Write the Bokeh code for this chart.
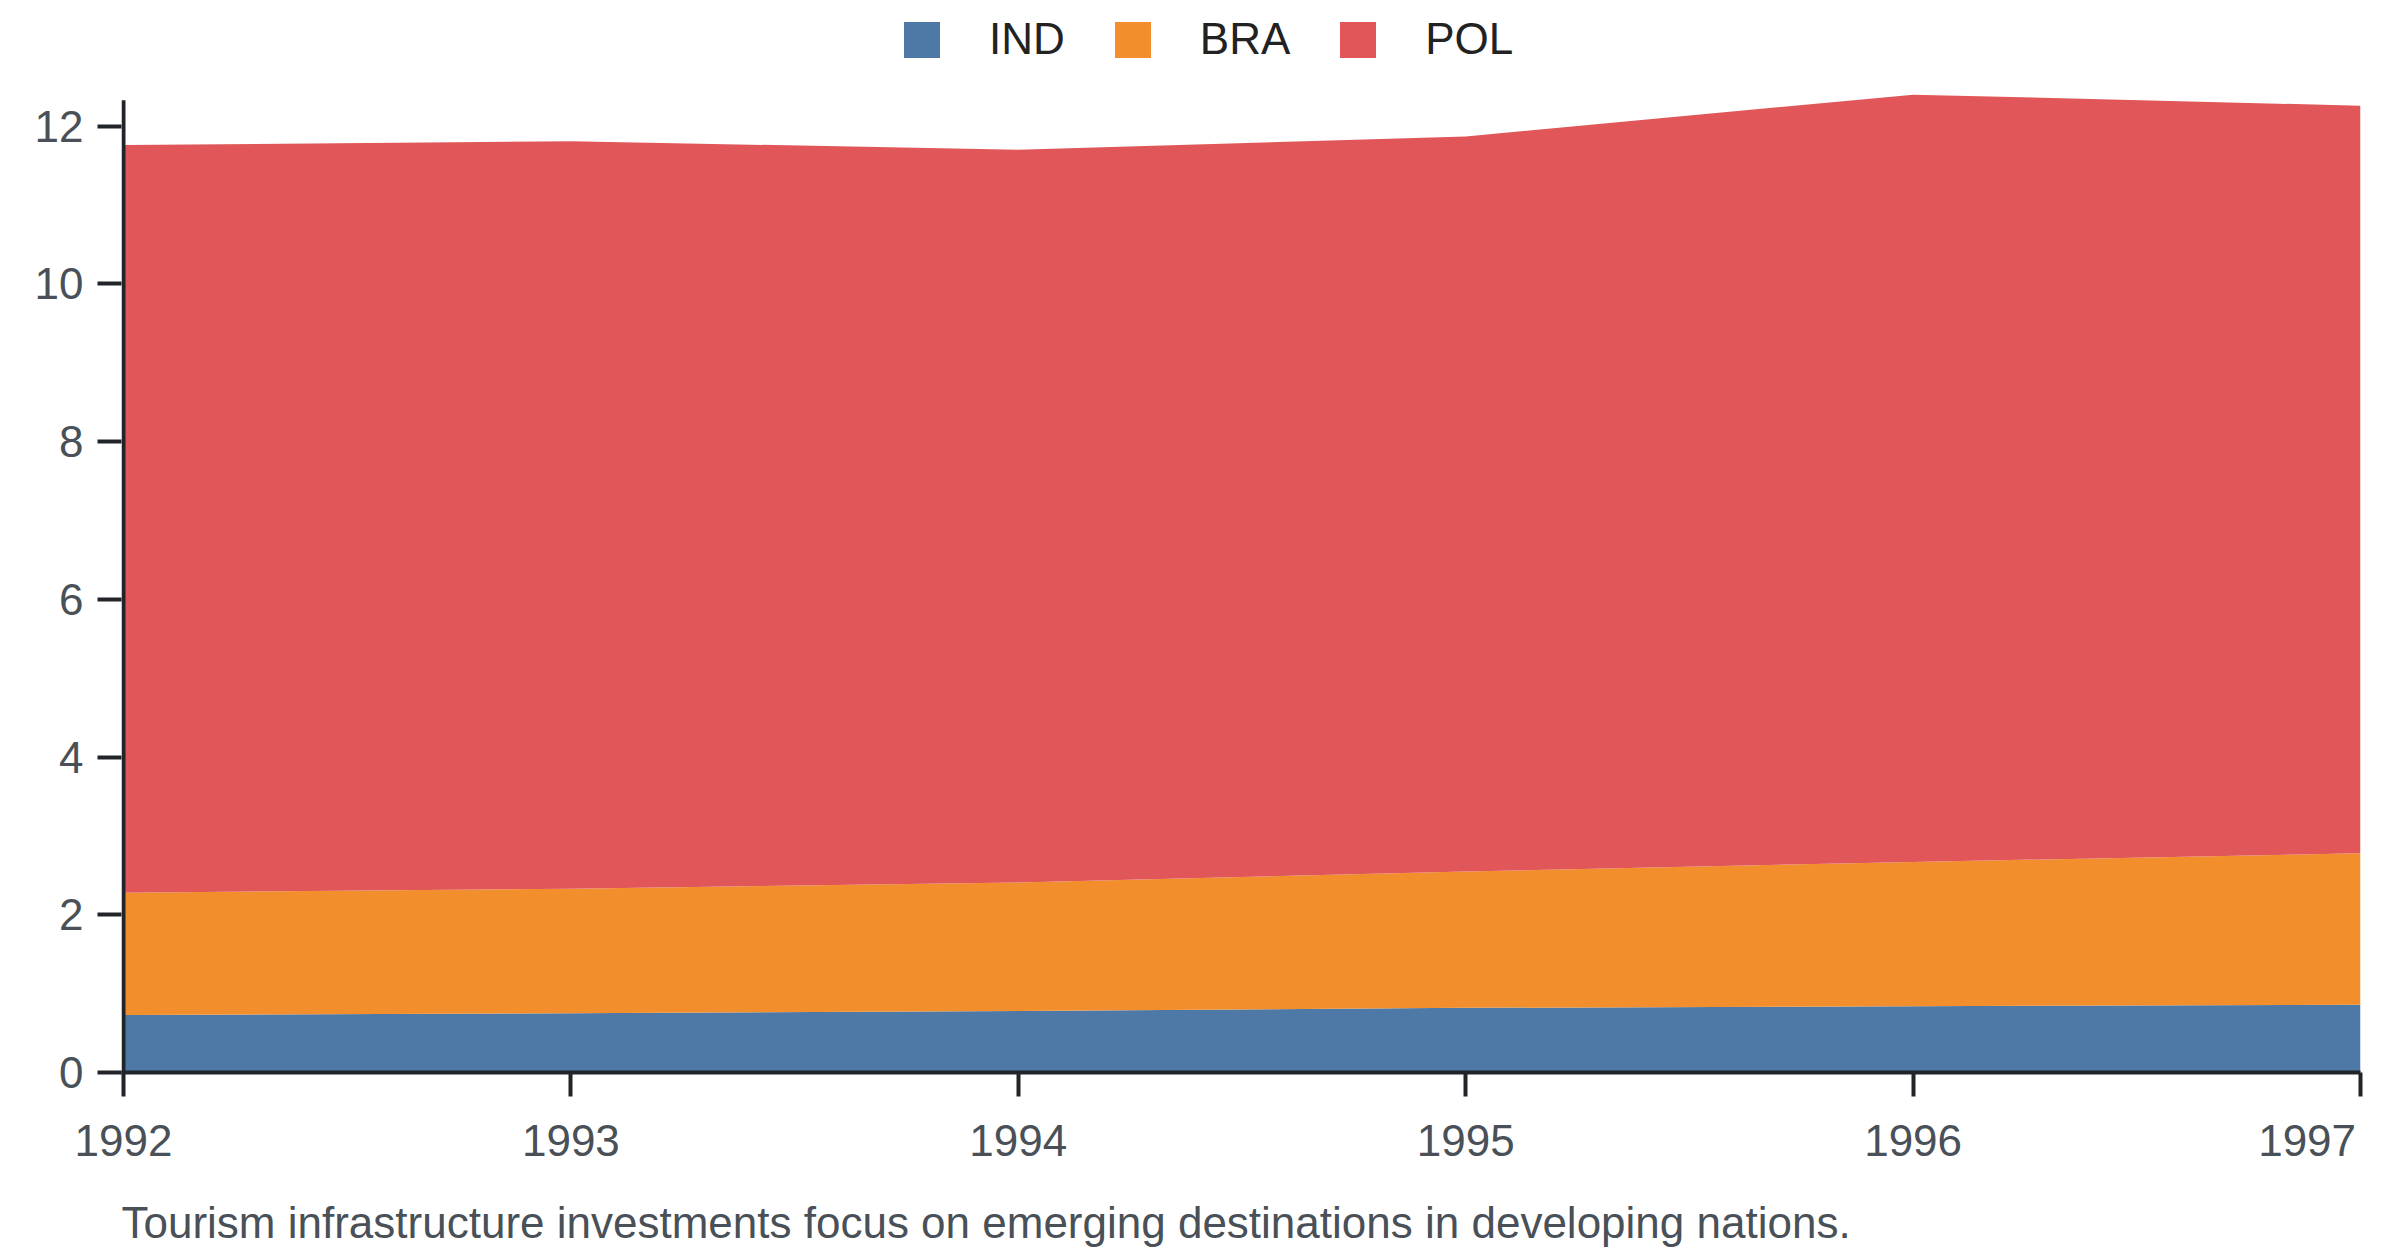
from bokeh.plotting import figure
from bokeh.models import ColumnDataSource, Legend, Title, FixedTicker
from bokeh.embed import file_html
from bokeh.resources import INLINE

years = [1992, 1993, 1994, 1995, 1996, 1997]
IND = [0.73, 0.75, 0.78, 0.82, 0.84, 0.86]
BRA = [1.55, 1.58, 1.63, 1.73, 1.83, 1.92]
POL = [9.48, 9.48, 9.29, 9.32, 9.73, 9.48]
series = ["IND", "BRA", "POL"]
colors = ["#4e79a7", "#f28e2b", "#e15759"]
y_ticks = [0, 2, 4, 6, 8, 10, 12]
y_axis_top = 12.33
caption = "Tourism infrastructure investments focus on emerging destinations in developing nations."

FONT = "Liberation Sans"
FS = "44px"
AXIS_COLOR = "#212529"
LABEL_COLOR = "#495057"

source = ColumnDataSource(dict(year=years, IND=IND, BRA=BRA, POL=POL))

W, H = 2380, 1276
FRAME_BOTTOM = 1072
PX_PER_UNIT = 78.86
PX_PER_YEAR = 447.4
x_pad = 2 / PX_PER_YEAR

p = figure(width=W, height=H, output_backend="svg", toolbar_location=None,
           x_range=(years[0] - x_pad, years[-1]),
           y_range=(0, FRAME_BOTTOM / PX_PER_UNIT),
           min_border_left=121, min_border_right=W - 2360, min_border_top=0,
           min_border_bottom=H - FRAME_BOTTOM)
p.outline_line_color = None
p.xgrid.visible = False
p.ygrid.visible = False

renderers = p.varea_stack(series, x="year", source=source, color=colors)

# y axis spine, drawn only up to where the reference's spine ends
p.segment(x0=[years[0]], y0=[0], x1=[years[0]], y1=[y_axis_top],
          line_color=AXIS_COLOR, line_width=4)

legend = Legend(items=[(s, [r]) for s, r in zip(series, renderers)],
                orientation="horizontal", location=(778, FRAME_BOTTOM - 64),
                glyph_width=45, glyph_height=45, label_standoff=45, spacing=45,
                padding=0, margin=0, border_line_color=None,
                background_fill_alpha=0,
                label_text_font=FONT, label_text_font_size=FS,
                label_text_color="#222222", label_height=45)
p.add_layout(legend, "center")

for ax in (p.xaxis[0], p.yaxis[0]):
    ax.axis_line_width = 4
    ax.axis_line_color = AXIS_COLOR
    ax.major_tick_line_width = 4
    ax.major_tick_line_color = AXIS_COLOR
    ax.major_tick_out = 24
    ax.major_tick_in = 0
    ax.minor_tick_line_color = None
    ax.major_label_text_font = FONT
    ax.major_label_text_font_size = FS
    ax.major_label_text_color = LABEL_COLOR
p.yaxis.axis_line_color = None

p.xaxis.ticker = FixedTicker(ticks=years)
# last year label sits left of its tick, as in the reference
p.xaxis.major_label_overrides = {years[-1]: str(years[-1]) + "\u00a0" * 2}
p.xaxis.major_label_standoff = 19
p.yaxis.ticker = FixedTicker(ticks=y_ticks)
p.yaxis.major_label_standoff = 14

p.add_layout(Title(text=caption, align="left", text_font=FONT,
                   text_font_size=FS, text_font_style="normal",
                   text_color=LABEL_COLOR, standoff=57), "below")

open("out.html", "w").write(file_html(p, INLINE))
